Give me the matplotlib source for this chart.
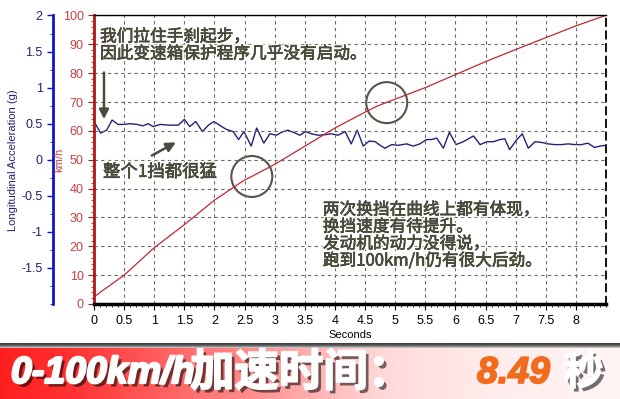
import numpy as np
import matplotlib.pyplot as plt
from matplotlib import patheffects as pe
from matplotlib.patches import Ellipse
from matplotlib.ticker import MultipleLocator

# speed trace (km/h)
time_speed = [0, 0.5, 1.0, 1.5, 2.0, 2.5, 2.6, 3.0, 3.5, 4.0, 4.5, 4.7,
              5.0, 5.5, 6.0, 6.5, 7.0, 7.5, 8.0, 8.49]
speed = [2.5, 10, 19.5, 27.5, 36, 43, 44, 48.4, 54.7, 61, 66.5, 68.6,
         71, 75, 79.5, 84, 88.2, 92.3, 96.4, 100]

# longitudinal acceleration (g)
time_acc = [0, 0.11, 0.21, 0.30, 0.40, 0.49, 0.60, 0.71, 0.81, 0.90, 0.98,
            1.10, 1.24, 1.40, 1.50, 1.59, 1.69, 1.80, 1.90, 1.99, 2.10,
            2.20, 2.31, 2.40, 2.49, 2.61, 2.70, 2.82, 2.92, 3.03, 3.11,
            3.22, 3.31, 3.42, 3.51, 3.61, 3.72, 3.86, 3.94, 4.05, 4.17,
            4.27, 4.37, 4.47, 4.57, 4.67, 4.75, 4.83, 4.94, 5.05, 5.19,
            5.30, 5.41, 5.52, 5.60, 5.69, 5.80, 5.90, 6.01, 6.13, 6.30,
            6.41, 6.52, 6.63, 6.74, 6.82, 6.90, 7.01, 7.11, 7.21, 7.32,
            7.43, 7.54, 7.65, 7.76, 7.87, 7.98, 8.09, 8.20, 8.31, 8.40, 8.50]
accel = [0.53, 0.37, 0.41, 0.55, 0.49, 0.49, 0.50, 0.49, 0.47, 0.50, 0.46,
         0.49, 0.48, 0.48, 0.56, 0.46, 0.53, 0.39, 0.48, 0.53, 0.47,
         0.42, 0.39, 0.28, 0.39, 0.19, 0.44, 0.23, 0.36, 0.34, 0.38,
         0.41, 0.38, 0.34, 0.39, 0.36, 0.34, 0.35, 0.36, 0.34, 0.39,
         0.22, 0.41, 0.19, 0.26, 0.25, 0.20, 0.16, 0.21, 0.20, 0.22,
         0.19, 0.22, 0.28, 0.28, 0.30, 0.16, 0.38, 0.21, 0.25, 0.33,
         0.21, 0.25, 0.25, 0.28, 0.29, 0.14, 0.27, 0.36, 0.16, 0.25,
         0.24, 0.22, 0.21, 0.21, 0.22, 0.21, 0.21, 0.23, 0.17, 0.19, 0.20]

speed_ticks = list(range(0, 101, 10))
acc_ticks = [-1.5, -1, -0.5, 0, 0.5, 1, 1.5, 2]
time_ticks = [i * 0.5 for i in range(17)]

note_top = '我们拉住手刹起步，\n因此变速箱保护程序几乎没有启动。'
note_gear = '整个1挡都很猛'
note_right = '两次换挡在曲线上都有体现，\n换挡速度有待提升。\n发动机的动力没得说，\n跑到100km/h仍有很大后劲。'

W, H = 620, 399
cjk = ['Noto Sans CJK SC', 'DejaVu Sans']
latin = ['Liberation Sans', 'DejaVu Sans']
note_col = '#4b4b3c'

fig = plt.figure(figsize=(W / 100, H / 100), dpi=100)
rect = [94 / W, 1 - 304 / H, 512 / W, 288.5 / H]

# acceleration axis (behind)
ax_acc = fig.add_axes(rect)
ax_acc.plot(time_acc, accel, color='#22227a', lw=1)
ax_acc.set_xlim(0, 8.5)
ax_acc.set_ylim(-2, 2)
for s in ['top', 'right', 'bottom']:
    ax_acc.spines[s].set_visible(False)
ax_acc.spines['left'].set_position(('axes', -41 / 512))
ax_acc.spines['left'].set_color('#1414c8')
ax_acc.spines['left'].set_linewidth(2)
ax_acc.set_xticks([])
ax_acc.set_yticks(acc_ticks)
ax_acc.set_yticklabels([f'{v:g}' for v in acc_ticks], family=latin)
ax_acc.yaxis.set_minor_locator(MultipleLocator(0.25))
ax_acc.tick_params(axis='y', which='major', colors='#1414c8', labelcolor='#20207a',
                   labelsize=9, length=4, width=1)
ax_acc.tick_params(axis='y', which='minor', colors='#1414c8', length=2)
ax_acc.set_ylabel('Longitudinal Acceleration (g)', color='#20207a', fontsize=8, family=latin)
ax_acc.yaxis.set_label_coords(-76 / 512, 0.5)

# speed axis (front)
ax = fig.add_axes(rect)
ax.patch.set_visible(False)
ax.plot(time_speed, speed, color='#c02830', lw=0.9)
ax.set_xlim(0, 8.5)
ax.set_ylim(0, 100)
ax.set_xticks(time_ticks)
ax.set_xticklabels([f'{v:g}' for v in time_ticks], family=latin)
ax.set_yticks(speed_ticks)
ax.set_yticklabels([str(v) for v in speed_ticks], family=latin)
ax.xaxis.set_minor_locator(MultipleLocator(0.1))
ax.yaxis.set_minor_locator(MultipleLocator(2))
ax.tick_params(axis='x', which='major', length=4, labelsize=9, pad=4)
ax.tick_params(axis='x', which='minor', length=2)
ax.tick_params(axis='y', which='major', colors='#b01818', labelcolor='#c84040',
               labelsize=9, length=4)
ax.tick_params(axis='y', which='minor', colors='#b01818', length=2)
ax.grid(True, which='major', color='#6a6a6a', ls=(0, (3, 3)), lw=0.8)
ax.spines['left'].set_color('#b01818')
ax.spines['left'].set_linewidth(2)
ax.spines['bottom'].set_linewidth(2.5)
ax.spines['top'].set_linewidth(1)
ax.spines['right'].set_linestyle((0, (4, 3)))
ax.spines['right'].set_linewidth(1.3)
ax.set_ylabel('km/h', color='#c84040', fontsize=8, family=latin)
ax.yaxis.set_label_coords(-30 / 512, 0.5)
ax.set_xlabel('Seconds', fontsize=8, family=latin, labelpad=2)

# annotations
outline = [pe.withStroke(linewidth=2.5, foreground='white'),
           pe.withStroke(linewidth=0.45, foreground=note_col)]
ax.text(0.1, 95.5, note_top, family=cjk, fontsize=12, color=note_col,
        va='top', ha='left', linespacing=1.0, path_effects=outline)
ax.text(0.15, 45.8, note_gear, family=cjk, fontsize=12.5, color=note_col,
        va='center', ha='left', path_effects=outline)
ax.text(3.80, 35.5, note_right, family=cjk, fontsize=12, color=note_col,
        va='top', ha='left', linespacing=1.0, path_effects=outline)
arrow = dict(arrowstyle='-|>', color=note_col, lw=1.8, mutation_scale=14)
ax.annotate('', xy=(0.166, 63.1), xytext=(0.166, 81.2), arrowprops=arrow)
ax.annotate('', xy=(1.40, 56.5), xytext=(0.92, 51.0), arrowprops=arrow)
for cx, cy in [(2.62, 44.2), (4.86, 69.8)]:
    ax.add_patch(Ellipse((cx, cy), 41 / 60.25, 41 / 2.885, fill=False,
                         ec='#55554a', lw=1.5, clip_on=False))

# banner at the bottom
ax_b = fig.add_axes([0, 0, 1, 56 / H])
xs = np.linspace(0, 1, W)
gb = np.interp(xs, [0, 0.12, 0.4, 0.62, 0.8, 1.0], [0.12, 0.2, 0.55, 0.85, 0.93, 0.96])
band = np.ones((56, W, 3))
band[:, :, 1] = gb
band[:, :, 2] = gb
shade = np.array([0.25, 0.3, 0.4, 0.55, 0.75])
band[:5, :, :] = shade[:, None, None]
ax_b.imshow(band, extent=[0, 1, 0, 1], aspect='auto', interpolation='bilinear')
ax_b.set_axis_off()


def heavy(col, lw):
    return [pe.SimplePatchShadow(offset=(2.5, -2.5), shadow_rgbFace='black', alpha=0.55),
            pe.withStroke(linewidth=lw, foreground=col), pe.Normal()]


ty = 1 - 373 / H
fig.text(11 / W, ty, '0-100km/h', family=['Liberation Sans'], style='italic',
         weight='bold', fontsize=27, color='white', va='center', path_effects=heavy('white', 1.6))
fig.text(190 / W, ty, '加速时间：', family=cjk, weight='bold', fontsize=32,
         color='white', va='center', path_effects=heavy('white', 1.2))
fig.text(477 / W, ty, '8.49', family=['Liberation Sans'], style='italic',
         weight='bold', fontsize=27, color='#f26a1b', va='center',
         path_effects=[pe.withStroke(linewidth=1.2, foreground='#f26a1b')])
fig.text(563 / W, ty, '秒', family=cjk, weight='bold', fontsize=29,
         color='white', va='center', path_effects=heavy('white', 1.0))

fig.savefig('out.png', dpi=100)
